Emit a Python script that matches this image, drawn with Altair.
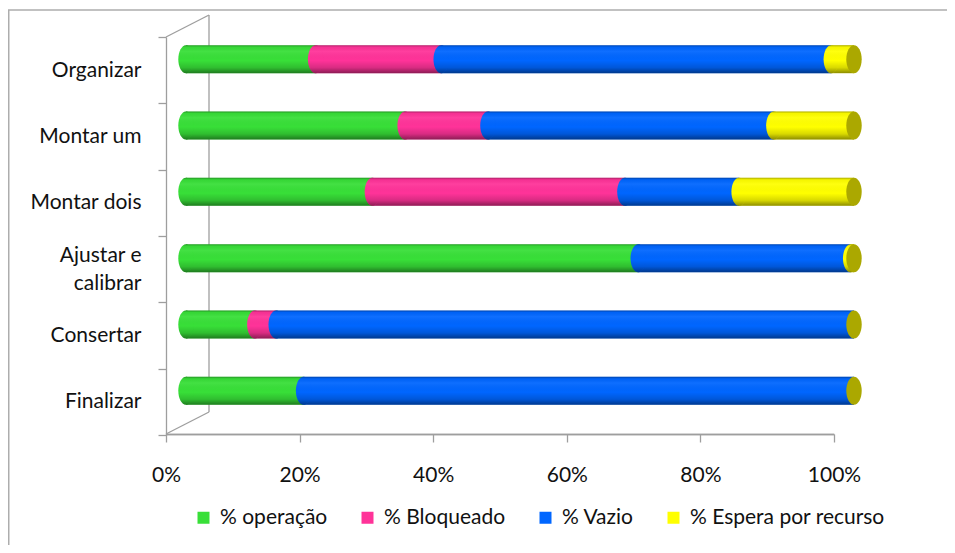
import altair as alt
import pandas as pd

# ---------------- data ----------------
categories = ["Organizar", "Montar um", "Montar dois", "Ajustar e calibrar", "Consertar", "Finalizar"]
series = ["% operação", "% Bloqueado", "% Vazio", "% Espera por recurso"]
colors = ["#38DF38", "#FF3399", "#0066FF", "#FFFF00"]

operacao = [19.4, 32.8, 27.9, 67.7, 10.3, 17.6]
bloqueado = [18.8, 12.4, 37.8, 0.0, 3.2, 0.0]
vazio = [58.4, 42.8, 17.1, 31.8, 86.5, 82.4]
espera = [3.4, 12.0, 17.2, 0.5, 0.0, 0.0]

x_ticks = [0, 20, 40, 60, 80, 100]

values_by_series = [operacao, bloqueado, vazio, espera]
rows = []
for i, cat in enumerate(categories):
    acc = 0.0
    for s, vals in zip(series, values_by_series):
        v = vals[i]
        rows.append({"cat": cat, "serie": s, "value": v, "start": acc, "end": acc + v})
        acc += v
df = pd.DataFrame(rows)
caps = df.groupby("cat", sort=False)["end"].max().reset_index()

# ---------------- style ----------------
FONT = "Lato"
TEXT = "#111111"
GRAY = "#9E9E9E"
W, H = 939, 537
X_RANGE = [178, 846]
Y_RANGE = [18, 416]
BAR = 28
ELL = "M0,-1 A0.55,1 0 1,1 0,1 A0.55,1 0 1,1 0,-1 Z"
ELL_SIZE = BAR * BAR

shade = {
    "gradient": "linear", "x1": 0, "x2": 0, "y1": 0, "y2": 1,
    "stops": [
        {"offset": 0.0, "color": "rgba(0,0,0,0.32)"},
        {"offset": 0.07, "color": "rgba(0,0,0,0.04)"},
        {"offset": 0.22, "color": "rgba(255,255,255,0.06)"},
        {"offset": 0.55, "color": "rgba(0,0,0,0)"},
        {"offset": 0.8, "color": "rgba(0,0,0,0.15)"},
        {"offset": 1.0, "color": "rgba(0,0,0,0.45)"},
    ],
}

x_axis = alt.Axis(
    values=x_ticks, labelExpr="datum.value + '%'", title=None, orient="bottom",
    offset=-111, position=-20, grid=False, labelFlush=False, domain=True,
    domainColor=GRAY, domainWidth=1.3, tickColor=GRAY, tickWidth=1.3, tickSize=8,
    labelPadding=22, labelFont=FONT, labelFontSize=21, labelColor=TEXT,
)
y_axis = alt.Axis(
    title=None, orient="left", offset=-158, position=11, grid=False,
    tickBand="extent", tickSize=8, tickColor=GRAY, tickWidth=1.3,
    domainColor=GRAY, domainWidth=1.3,
    labelPadding=17, labelFont=FONT, labelFontSize=21, labelColor=TEXT,
    labelLineHeight=28, labelLimit=300,
    labelOffset={"condition": {"test": "datum.value == 'Ajustar e calibrar'", "value": -14},
                 "value": 0},
    labelExpr="datum.label == 'Ajustar e calibrar' ? ['Ajustar e', 'calibrar'] : datum.label",
)

x_scale = alt.Scale(domain=[0, 100], range=X_RANGE)
y_scale = alt.Scale(domain=categories, range=Y_RANGE, paddingInner=0, paddingOuter=0)

legend = alt.Legend(
    orient="none", legendX=185, legendY=499, direction="horizontal", columns=4,
    title=None, symbolType="square", symbolSize=144, symbolStrokeWidth=0, symbolOpacity=1,
    labelFont=FONT, labelFontSize=21, labelColor=TEXT, labelLimit=400,
    columnPadding=29, labelOffset=6, padding=0,
)
color_scale = alt.Scale(domain=series, range=colors)


def X(field):
    return alt.X(f"{field}:Q", scale=x_scale, axis=x_axis)


def Y():
    return alt.Y("cat:N", scale=y_scale, axis=y_axis, sort=categories)


def seg(x1, y1, x2, y2, color=GRAY, width=1.3):
    return alt.Chart(alt.Data(values=[{}])).mark_rule(color=color, strokeWidth=width).encode(
        x=alt.value(x1), y=alt.value(y1), x2=alt.value(x2), y2=alt.value(y2)
    )


# frame and 3D wall decoration
frame_top = seg(0, 2, W, 2, "#ADADAD", 1.5)
frame_left = seg(0.75, 2, 0.75, H, "#ADADAD", 1.5)
back_wall = seg(201, 7, 201, 404)
top_diag = seg(158, 29, 201, 7)
bottom_diag = seg(158, 426, 201, 404)
floor_front = seg(158, 426.5, 826, 426.5)

base = alt.Chart(df)

bars = base.mark_bar(size=BAR).encode(
    x=X("start"), x2="end:Q", y=Y(),
    color=alt.Color("serie:N", scale=color_scale, legend=legend, sort=series),
)

bar_shade = base.mark_bar(size=BAR, fill=shade).encode(
    x=X("start"), x2="end:Q", y=Y(),
)

ends = base.transform_filter("datum.value > 0")

ell = ends.mark_point(shape=ELL, size=ELL_SIZE, filled=True, opacity=1, strokeWidth=0).encode(
    x=X("start"), y=Y(),
    color=alt.Color("serie:N", scale=color_scale, legend=None, sort=series),
)

ell_shade = ends.mark_point(shape=ELL, size=ELL_SIZE, filled=True, opacity=1, strokeWidth=0,
                            fill=shade).encode(
    x=X("start"), y=Y(),
)

cap = alt.Chart(caps).mark_point(shape=ELL, size=ELL_SIZE, filled=True, opacity=1,
                                 strokeWidth=0, fill="#ABA800").encode(
    x=X("end"), y=Y(),
)

chart = alt.layer(
    frame_top, frame_left, back_wall, top_diag, bottom_diag, floor_front,
    bars, bar_shade, ell, ell_shade, cap,
).properties(
    width=W, height=H, padding=0, autosize=alt.AutoSizeParams(type="none"),
).configure_view(stroke=None)

chart.save("out.html", embed_options={"renderer": "svg", "actions": False})
